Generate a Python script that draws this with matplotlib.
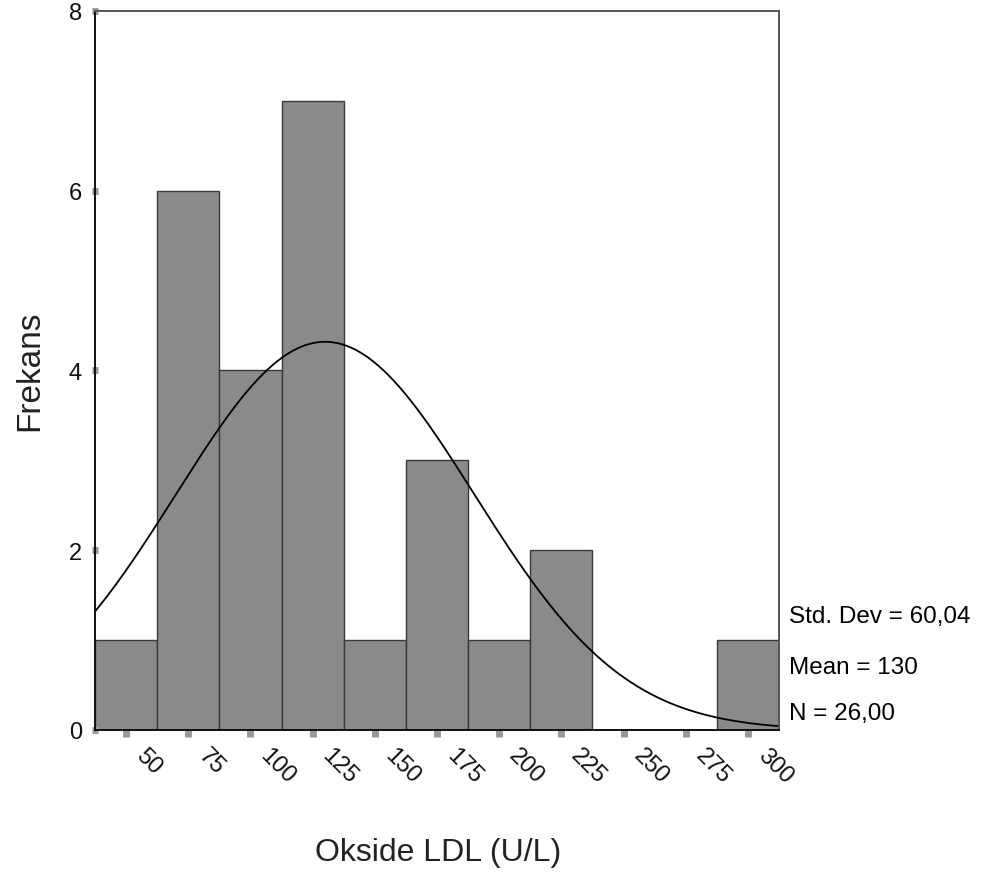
import numpy as np
import matplotlib
matplotlib.use('Agg')
from matplotlib import pyplot as plt
from matplotlib.transforms import ScaledTranslation

plt.rcParams['font.family'] = ['Liberation Sans', 'DejaVu Sans']

# bin centers and counts (Okside LDL histogram)
centers = [50, 75, 100, 125, 150, 175, 200, 225, 250, 275, 300]
counts = [1, 6, 4, 7, 1, 3, 1, 2, 0, 0, 1]
width = 25
std_dev = 60.04
mean = 130
n = 26

fig = plt.figure(figsize=(9.88, 8.79), dpi=100)
ax = fig.add_axes([0.0962, 0.1684, 0.6923, 0.8180])

ax.bar(centers, counts, width=width, color='#8a8a8a', edgecolor='#3a3a3a', linewidth=1.0)

# fitted normal curve
xs = np.linspace(centers[0] - width / 2, centers[-1] + width / 2, 400)
ys = n * width / (std_dev * np.sqrt(2 * np.pi)) * np.exp(-0.5 * ((xs - mean) / std_dev) ** 2)
ax.plot(xs, ys, color='black', linewidth=1.3)

ax.set_xlim(centers[0] - width / 2, centers[-1] + width / 2)
ax.set_ylim(0, 8)
ax.set_xticks(centers)
ax.set_xticklabels([str(c) for c in centers], rotation=-45, ha='left', va='center',
                   rotation_mode='anchor', fontsize=17, color='#111111')
ax.set_yticks([0, 2, 4, 6, 8])
ax.set_yticklabels(['0', '2', '4', '6', '8'], fontsize=17, color='#111111')
ax.tick_params(axis='y', direction='inout', length=5, width=5, color='#999999', pad=7)
ax.tick_params(axis='x', direction='out', length=5, width=5, color='#999999', pad=11)

# nudge rotated x labels to the right, like the original
shift = ScaledTranslation(9.5 / 72, 0, fig.dpi_scale_trans)
for lab in ax.get_xticklabels():
    lab.set_transform(lab.get_transform() + shift)

for s in ['left', 'bottom']:
    ax.spines[s].set_color('#111111')
    ax.spines[s].set_linewidth(1.4)
for s in ['top', 'right']:
    ax.spines[s].set_color('#555555')
    ax.spines[s].set_linewidth(1.4)

fig.text(30 / 988, 1 - 371 / 879, 'Frekans', fontsize=24, rotation=90,
         ha='center', va='center', color='#222222')
fig.text(438 / 988, 1 - 853 / 879, 'Okside LDL (U/L)', fontsize=23,
         ha='center', va='center', color='#222222')

fig.text(0.799, 1 - 617 / 879, 'Std. Dev = 60,04', fontsize=17.5, va='center', ha='left')
fig.text(0.799, 1 - 668 / 879, 'Mean = 130', fontsize=17.5, va='center', ha='left')
fig.text(0.799, 1 - 714 / 879, 'N = 26,00', fontsize=17.5, va='center', ha='left')

fig.savefig('out.png', dpi=100)
